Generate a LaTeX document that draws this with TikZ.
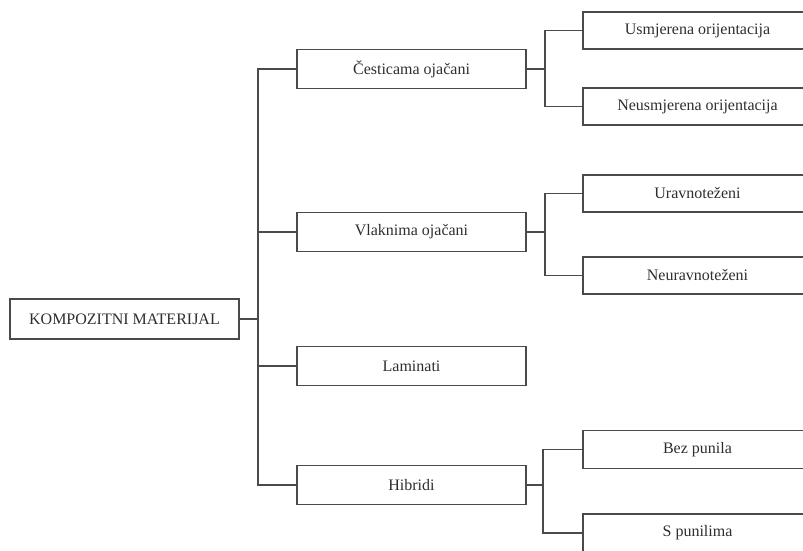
\documentclass[tikz,border=0pt]{standalone}
\usepackage{fontspec}
\setmainfont{Liberation Serif}
\usepackage{xcolor}
\usetikzlibrary{positioning}
\definecolor{linija}{HTML}{4A4A4A}
\definecolor{tekst}{HTML}{2E2E2E}

\begin{document}
\begin{tikzpicture}[x=1pt, y=1pt, font=\fontsize{16}{19}\selectfont]
\tikzstyle{blok} = [rectangle, minimum width=229 pt, minimum height=39 pt, inner sep=0 pt, outer sep=0 pt, text centered, draw=linija, line width=1.5 pt, text=tekst]
\useasboundingbox (0,0) rectangle (803,550);

\node (KM) [blok, minimum height=40 pt] at (124.5,231) {KOMPOZITNI MATERIJAL};

\node (CO) [blok] at (411.5,481) {Česticama ojačani};
\node (VO) [blok] at (411.5,318) {Vlaknima ojačani};
\node (LA) [blok] at (411.5,184) {Laminati};
\node (HI) [blok] at (411.5,65) {Hibridi};

\node (UO) [blok, minimum height=37 pt] at (697.5,519.5) {Usmjerena orijentacija};
\node (NO) [blok, minimum height=37 pt] at (697.5,443.5) {Neusmjerena orijentacija};
\node (UR) [blok, minimum height=37 pt] at (697.5,356.5) {Uravnoteženi};
\node (NU) [blok, minimum height=37 pt] at (697.5,274.5) {Neuravnoteženi};
\node (BP) [blok, minimum height=38 pt] at (697.5,100.5) {Bez punila};
\node (SP) [blok, minimum height=38 pt] at (697.5,17) {S punilima};

\draw [linija, line width=1.5 pt] (KM.east) -- +(19,0);
\draw [linija, line width=1.5 pt] (CO.west) -- +(-39,0) |- (HI.west);
\draw [linija, line width=1.5 pt] (VO.west) -- +(-39,0);
\draw [linija, line width=1.5 pt] (LA.west) -- +(-39,0);

\draw [linija, line width=1.5 pt] (CO.east) -- +(19,0);
\draw [linija, line width=1.5 pt] (UO.west) -- +(-38,0) |- (NO.west);
\draw [linija, line width=1.5 pt] (VO.east) -- +(19,0);
\draw [linija, line width=1.5 pt] (UR.west) -- +(-38,0) |- (NU.west);
\draw [linija, line width=1.5 pt] (HI.east) -- +(17,0);
\draw [linija, line width=1.5 pt] (BP.west) -- +(-40,0) |- (SP.west);

\end{tikzpicture}
\end{document}
